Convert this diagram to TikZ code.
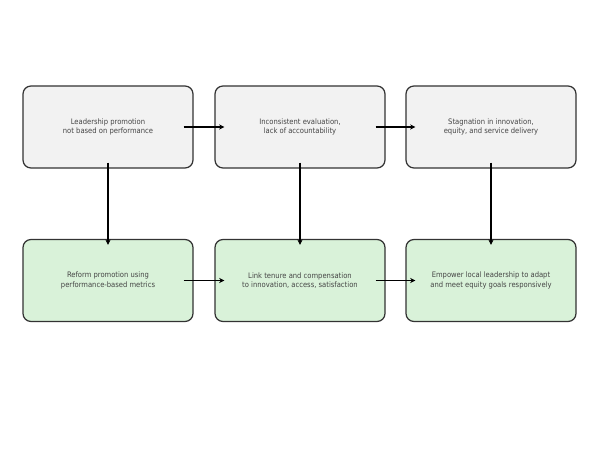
\documentclass[tikz,border=0pt]{standalone}
\usepackage{fontspec}
\setmainfont{DejaVu Sans Condensed}
\usetikzlibrary{arrows.meta}
\definecolor{probfill}{HTML}{F2F2F2}
\definecolor{fixfill}{HTML}{D9F2D9}
\definecolor{boxline}{HTML}{333333}
\definecolor{boxtext}{HTML}{444444}
\begin{document}
\begin{tikzpicture}[
  box/.style={draw=boxline,line width=0.7pt,rounded corners=0.16cm,
    minimum width=3.4cm,minimum height=1.64cm,align=center,
    text=boxtext,font=\fontsize{4.3}{5.5}\selectfont},
  prob/.style={box,fill=probfill},
  fix/.style={box,fill=fixfill},
  arr/.style={-{Stealth[length=3pt,width=3pt]},line width=0.75pt,black}]
  %\draw[step=1cm,gray,very thin] (0,0) grid (12,-9.04);
  \useasboundingbox[fill=white] (0,0) rectangle (12,-9.04);
  \node[prob] (Lead) at (2.16,-2.54) {Leadership promotion\\not based on performance};
  \node[prob] (Eval) at (6.00,-2.54) {Inconsistent evaluation,\\lack of accountability};
  \node[prob] (Stag) at (9.82,-2.54) {Stagnation in innovation,\\equity, and service delivery};
  \node[fix] (Reform) at (2.16,-5.61) {Reform promotion using\\performance-based metrics};
  \node[fix] (Link) at (6.00,-5.61) {Link tenure and compensation\\to innovation, access, satisfaction};
  \node[fix] (Empower) at (9.82,-5.61) {Empower local leadership to adapt\\and meet equity goals responsively};
  % across
  \draw[arr,shorten <=-0.2cm,shorten >=-0.2cm] (Lead) -- (Eval);
  \draw[arr,shorten <=-0.2cm,shorten >=-0.2cm] (Eval) -- (Stag);
  \draw[arr,shorten <=-0.2cm,shorten >=-0.2cm] (Reform) -- (Link);
  \draw[arr,shorten <=-0.2cm,shorten >=-0.2cm] (Link) -- (Empower);
  % down
  \draw[arr,shorten <=-0.12cm,shorten >=-0.12cm] (Lead) -- (Reform);
  \draw[arr,shorten <=-0.12cm,shorten >=-0.12cm] (Eval) -- (Link);
  \draw[arr,shorten <=-0.12cm,shorten >=-0.12cm] (Stag) -- (Empower);
\end{tikzpicture}
\end{document}
